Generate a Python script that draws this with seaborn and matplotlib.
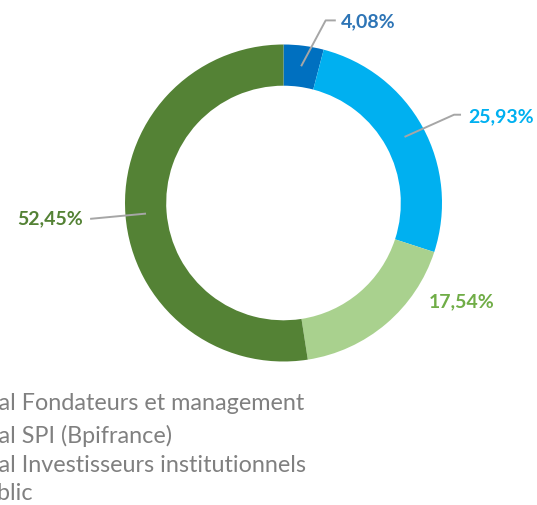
import matplotlib
matplotlib.use("Agg")
import matplotlib.pyplot as plt
import numpy as np
import seaborn as sns

# Shareholding breakdown (percent), clockwise from 12 o'clock
categories = ["Capital Fondateurs et management", "Capital SPI (Bpifrance)",
              "Capital Investisseurs institutionnels", "Public"]
shares = [4.08, 25.93, 17.54, 52.45]
value_labels = ["4,08%", "25,93%", "17,54%", "52,45%"]

sns.set_theme(style="white")
plt.rcParams["font.family"] = ["Lato", "DejaVu Sans"]

wedge_colors = sns.color_palette(["#0070C0", "#00B0F0", "#A9D18E", "#548235"])
label_colors = ["#2E75B6", "#00B0F0", "#70AD47", "#548235"]

W, H = 537, 505
fig = plt.figure(figsize=(W / 100, H / 100), dpi=100)
cx, cy, R = 283.5, 203, 158.5
ax = fig.add_axes([(cx - R) / W, (H - cy - R) / H, 2 * R / W, 2 * R / H])

ring = 0.26
wedges, _ = ax.pie(shares, colors=wedge_colors, startangle=90, counterclock=False,
                   radius=1, wedgeprops=dict(width=ring, edgecolor="none"))
ax.set_xlim(-1, 1)
ax.set_ylim(-1, 1)
ax.set_aspect("equal")
ax.axis("off")

# label placement: (elbow, end of leader, text anchor, alignment)
label_layout = [
    ((0.266, 1.152), (0.33, 1.152), (0.36, 1.146), "left"),
    ((1.076, 0.557), (1.12, 0.557), (1.163, 0.545), "left"),
    (None, None, (0.915, -0.62), "left"),
    (None, (-1.22, -0.10), (-1.265, -0.10), "right"),
]
mid_r = 1 - ring / 2
for w, lab, col, (elbow, end, txt, ha) in zip(wedges, value_labels, label_colors, label_layout):
    ang = np.deg2rad((w.theta1 + w.theta2) / 2)
    start = (mid_r * np.cos(ang), mid_r * np.sin(ang))
    if end is not None:
        pts = [start] + ([elbow] if elbow is not None else []) + [end]
        xs, ys = zip(*pts)
        ax.plot(xs, ys, color="#A6A6A6", lw=1.4, clip_on=False, solid_capstyle="butt")
    ax.text(txt[0], txt[1], lab, color=col, fontsize=14, fontweight="bold",
            ha=ha, va="center", clip_on=False)

# legend entries, running off the left edge of the figure
renderer = fig.canvas.get_renderer()
legend_rows = [404, 436, 465, 494]
cut_prefix = ["Capit", "Capit", "Capit", "Pu"]
for name, y, pre in zip(categories, legend_rows, cut_prefix):
    probe = fig.text(0, 0, pre, fontsize=16.8, family=["Lato", "DejaVu Sans"])
    pw = probe.get_window_extent(renderer).width
    probe.remove()
    extra = 2 if pre == "Pu" else 1
    fig.text((-pw - extra) / W, 1 - y / H, name, fontsize=16.8, color="#808080",
             ha="left", va="center", family=["Lato", "DejaVu Sans"])

fig.savefig("out.png", dpi=100)
